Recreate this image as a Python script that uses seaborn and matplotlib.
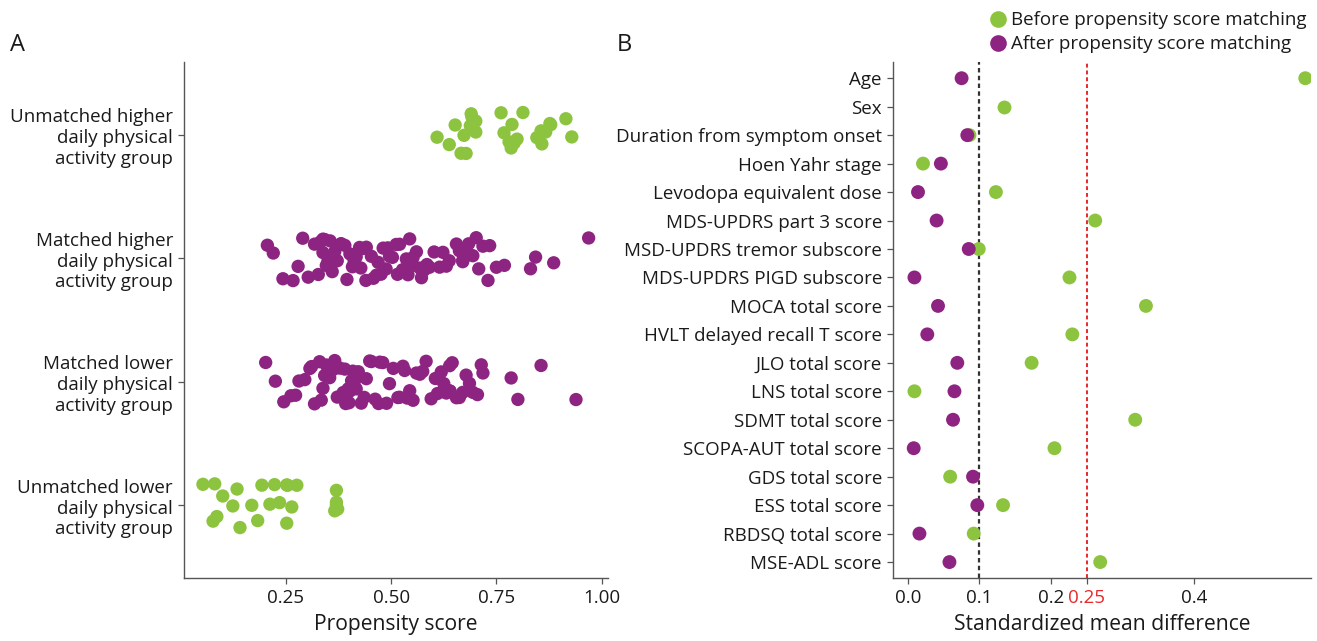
import numpy as np
import pandas as pd
import matplotlib
matplotlib.use('Agg')
import matplotlib.pyplot as plt
import seaborn as sns

sns.set_style('ticks')
plt.rcParams['font.family'] = ['Open Sans', 'DejaVu Sans']
plt.rcParams['text.color'] = '#1a1a1a'
plt.rcParams['axes.labelcolor'] = '#1a1a1a'
plt.rcParams['xtick.labelcolor'] = '#1a1a1a'
plt.rcParams['ytick.labelcolor'] = '#1a1a1a'

GREEN = '#8dc43f'
PURPLE = '#8e2482'

# panel A: propensity scores per group
groups = ['Unmatched higher\ndaily physical\nactivity group',
          'Matched higher\ndaily physical\nactivity group',
          'Matched lower\ndaily physical\nactivity group',
          'Unmatched lower\ndaily physical\nactivity group']
unmatched_higher = [0.609, 0.638, 0.652, 0.673, 0.666, 0.678, 0.692, 0.701, 0.690, 0.701,
                    0.761, 0.768, 0.780, 0.787, 0.792, 0.799, 0.813, 0.846, 0.877, 0.856,
                    0.879, 0.858, 0.867, 0.915, 0.929, 0.785, 0.688]
matched_higher = [0.206, 0.220, 0.243, 0.267, 0.279, 0.303, 0.327, 0.338, 0.338, 0.346,
                  0.350, 0.366, 0.390, 0.402, 0.417, 0.425, 0.433, 0.453, 0.465, 0.469,
                  0.481, 0.492, 0.496, 0.512, 0.520, 0.536, 0.544, 0.552, 0.560, 0.568,
                  0.579, 0.591, 0.615, 0.623, 0.631, 0.662, 0.670, 0.678, 0.694, 0.702,
                  0.718, 0.730, 0.734, 0.750, 0.769, 0.831, 0.843, 0.886, 0.969,
                  0.29, 0.318, 0.332, 0.342, 0.355, 0.372, 0.381, 0.395, 0.408, 0.412,
                  0.428, 0.441, 0.458, 0.476, 0.488, 0.503, 0.515, 0.527, 0.548, 0.572,
                  0.585, 0.602, 0.638, 0.655, 0.684, 0.708, 0.36, 0.44, 0.54, 0.67]
matched_lower = [0.202, 0.225, 0.245, 0.273, 0.281, 0.295, 0.307, 0.311, 0.330, 0.334,
                 0.338, 0.346, 0.354, 0.366, 0.378, 0.386, 0.398, 0.406, 0.409, 0.417,
                 0.429, 0.441, 0.453, 0.449, 0.473, 0.489, 0.496, 0.516, 0.528, 0.532,
                 0.544, 0.552, 0.568, 0.583, 0.595, 0.619, 0.631, 0.639, 0.639, 0.655,
                 0.670, 0.678, 0.694, 0.714, 0.718, 0.785, 0.801, 0.856, 0.939,
                 0.262, 0.318, 0.342, 0.35, 0.362, 0.372, 0.392, 0.402, 0.413, 0.422,
                 0.436, 0.462, 0.48, 0.505, 0.52, 0.538, 0.56, 0.575, 0.605, 0.625,
                 0.645, 0.662, 0.686, 0.705, 0.39, 0.47, 0.61, 0.35, 0.4, 0.64]
unmatched_lower = [0.077, 0.081, 0.053, 0.086, 0.100, 0.124, 0.134, 0.141, 0.169, 0.183,
                   0.193, 0.212, 0.223, 0.252, 0.235, 0.252, 0.254, 0.264, 0.276, 0.370,
                   0.370, 0.370, 0.373, 0.366]

# panel B: standardized mean differences
covariates = ['Age', 'Sex', 'Duration from symptom onset', 'Hoen Yahr stage',
              'Levodopa equivalent dose', 'MDS-UPDRS part 3 score',
              'MSD-UPDRS tremor subscore', 'MDS-UPDRS PIGD subscore', 'MOCA total score',
              'HVLT delayed recall T score', 'JLO total score', 'LNS total score',
              'SDMT total score', 'SCOPA-AUT total score', 'GDS total score',
              'ESS total score', 'RBDSQ total score', 'MSE-ADL score']
smd_before = [0.556, 0.135, 0.086, 0.021, 0.123, 0.262, 0.099, 0.226, 0.333, 0.230,
              0.173, 0.009, 0.318, 0.205, 0.059, 0.133, 0.092, 0.269]
smd_after = [0.075, np.nan, 0.083, 0.046, 0.014, 0.040, 0.085, 0.009, 0.042, 0.027,
             0.069, 0.065, 0.063, 0.008, 0.091, 0.097, 0.016, 0.058]
legend_labels = ['Before propensity score matching', 'After propensity score matching']

rows = []
for g, vals in zip(groups, [unmatched_higher, matched_higher, matched_lower, unmatched_lower]):
    for v in vals:
        rows.append({'group': g, 'score': v})
df_a = pd.DataFrame(rows)
df_b = pd.DataFrame({'covariate': covariates * 2,
                     'smd': smd_before + smd_after,
                     'timing': [legend_labels[0]] * len(covariates) + [legend_labels[1]] * len(covariates)})

fig = plt.figure(figsize=(13.17, 6.41), dpi=100)
ax1 = fig.add_axes([184 / 1317, 63 / 641, 424 / 1317, 516 / 641])
ax2 = fig.add_axes([893 / 1317, 63 / 641, 418 / 1317, 516 / 641])

np.random.seed(3)
sns.stripplot(data=df_a, x='score', y='group', hue='group', order=groups,
              palette=[GREEN, PURPLE, PURPLE, GREEN], jitter=0.19, size=9.6,
              linewidth=0, legend=False, ax=ax1)
ax1.set_xlim(0.008, 1.015)
ax1.set_ylim(3.59, -0.59)
ax1.set_xticks([0.25, 0.5, 0.75, 1.0])
ax1.set_xticklabels(['0.25', '0.50', '0.75', '1.00'])
ax1.set_xlabel('Propensity score', fontsize=15.2, labelpad=5)
ax1.set_ylabel('')

sns.stripplot(data=df_b, x='smd', y='covariate', hue='timing', order=covariates,
              hue_order=legend_labels, palette=[GREEN, PURPLE], jitter=False, dodge=False,
              size=10, linewidth=0, ax=ax2)
ax2.axvline(0.1, color='#333333', linestyle=(0, (2, 1.5)), linewidth=1.6, zorder=0)
ax2.axvline(0.25, color='#e8282b', linestyle=(0, (2, 1.5)), linewidth=1.4, zorder=0)
ax2.set_xlim(-0.021, 0.564)
ax2.set_ylim(17.56, -0.57)
ax2.set_xticks([0.0, 0.1, 0.2, 0.25, 0.4])
ax2.set_xticklabels(['0.0', '0.1', '0.2', '0.25', '0.4'])
ax2.get_xticklabels()[3].set_color('#e8282b')
ax2.set_xlabel('Standardized mean difference', fontsize=15.2, labelpad=5)
ax2.set_ylabel('')

for ax in (ax1, ax2):
    sns.despine(ax=ax)
    for s in ('left', 'bottom'):
        ax.spines[s].set_color('#555555')
        ax.spines[s].set_linewidth(1.0)
    ax.tick_params(axis='both', labelsize=13.5, length=4, width=0.9, color='#555555', pad=4)

handles, _ = ax2.get_legend_handles_labels()
ax2.legend(handles, legend_labels, loc='upper left', bbox_to_anchor=(977 / 1317, 1.0),
           bbox_transform=fig.transFigure, frameon=False, fontsize=13.5, handlelength=1.0,
           handletextpad=0.2, labelspacing=0.32, borderaxespad=0.2, markerscale=1.2)

fig.text(10 / 1317, 1 - 45 / 641, 'A', fontsize=17, va='center', ha='left')
fig.text(617 / 1317, 1 - 45 / 641, 'B', fontsize=17, va='center', ha='left')

fig.savefig('out.png', dpi=100)
